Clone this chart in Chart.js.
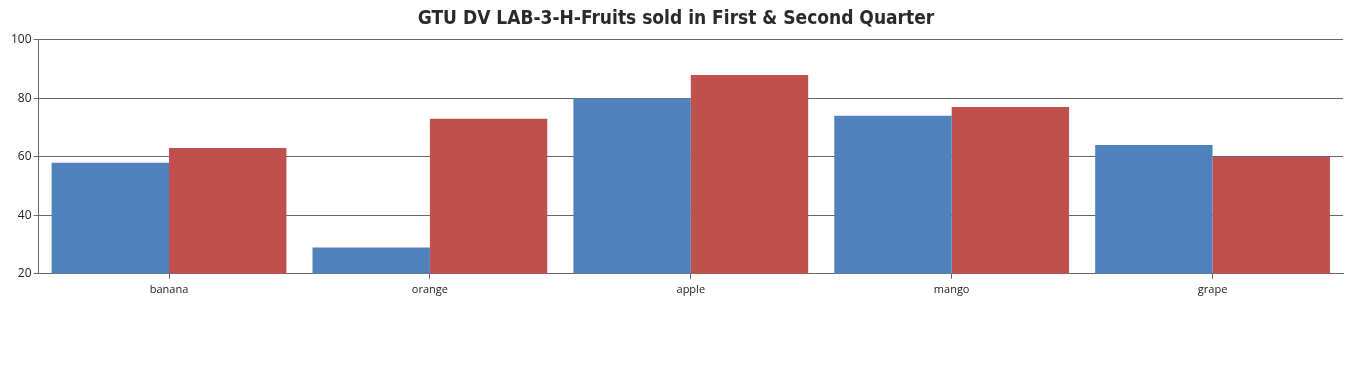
<!DOCTYPE html>
<html lang="en">
<head>
<meta charset="UTF-8">
<title>Fruits sold</title>
<script src="https://cdn.jsdelivr.net/npm/chart.js@4.4.1/dist/chart.umd.min.js"></script>
<style>
  html, body { margin: 0; padding: 0; background: #fff; }
  #wrap { width: 1359px; height: 300px; position: relative; }
</style>
</head>
<body>
<div id="wrap"><canvas id="fruitChart"></canvas></div>
<script>
const fruits = ['banana', 'orange', 'apple', 'mango', 'grape']
const firstQuarter = [58, 29, 80, 74, 64]
const secondQuarter = [63, 73, 88, 77, 60]
const yTicks = [20, 40, 60, 80, 100]

const lineColor = '#666'

new Chart(document.getElementById('fruitChart'), {
    type: 'bar',
    data: {
        labels: fruits,
        datasets: [
            { label: 'First Quarter', data: firstQuarter, backgroundColor: '#4F81BC' },
            { label: 'Second Quarter', data: secondQuarter, backgroundColor: '#C0504E' }
        ]
    },
    options: {
        responsive: true,
        maintainAspectRatio: false,
        animation: false,
        datasets: { bar: { barPercentage: 1, categoryPercentage: 0.9 } },
        layout: { padding: { left: 9, right: 16, top: 0, bottom: 0 } },
        plugins: {
            legend: { display: false },
            tooltip: { enabled: false },
            title: {
                display: true,
                text: 'GTU DV LAB-3-H-Fruits sold in First & Second Quarter',
                color: '#2a2a2a',
                font: { family: '"DejaVu Sans Condensed", sans-serif', size: 19, weight: 'bold' },
                padding: { top: 8, bottom: 9 }
            }
        },
        scales: {
            x: {
                grid: { display: true, drawOnChartArea: false, offset: false, tickLength: 5, color: lineColor },
                border: { color: lineColor },
                ticks: { color: '#222', font: { family: '"Open Sans", sans-serif', size: 11 }, padding: 4 }
            },
            y: {
                min: yTicks[0],
                max: yTicks[yTicks.length - 1],
                afterBuildTicks: axis => { axis.ticks = yTicks.map(v => ({ value: v })) },
                grid: { color: lineColor, tickLength: 5 },
                border: { color: lineColor },
                ticks: { color: '#222', font: { family: '"Open Sans", sans-serif', size: 12 }, padding: 2 }
            }
        }
    }
})
</script>
</body>
</html>
